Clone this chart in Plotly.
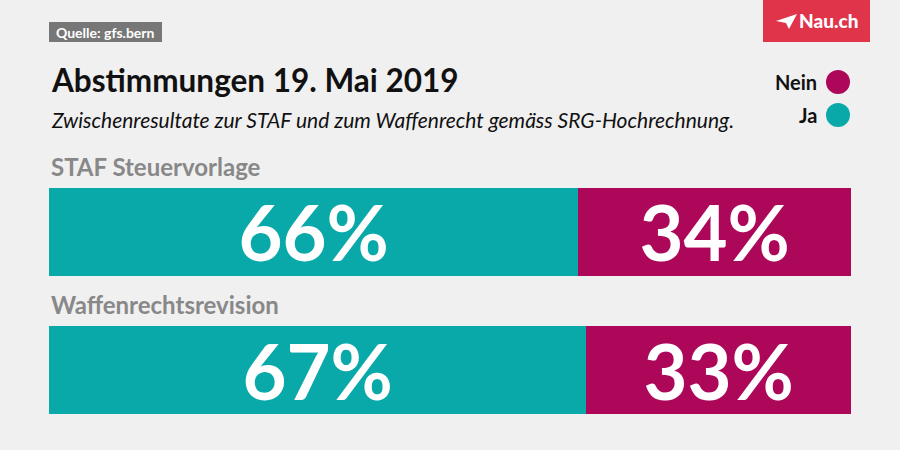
import plotly.graph_objects as go

W, H = 900, 450

vorlagen = ['STAF Steuervorlage', 'Waffenrechtsrevision']
ja = [66, 67]
nein = [34, 33]

farbe_ja = '#0aa9a9'
farbe_nein = '#ac0758'
bg = '#f0f0f0'
font = 'Lato'

fig = go.Figure()

fig.add_trace(go.Bar(
    y=vorlagen, x=ja, name='Ja', orientation='h',
    marker_color=farbe_ja, marker_line_width=0, width=0.635,
    text=[f'{v}%' for v in ja], textposition='inside',
    insidetextanchor='middle', constraintext='none',
    textfont=dict(family=font, size=76, color='white', weight='bold'),
    hoverinfo='skip'
))
fig.add_trace(go.Bar(
    y=vorlagen, x=nein, name='Nein', orientation='h',
    marker_color=farbe_nein, marker_line_width=0, width=0.635,
    text=[f'{v}%' for v in nein], textposition='inside',
    insidetextanchor='middle', constraintext='none',
    textfont=dict(family=font, size=76, color='white', weight='bold'),
    hoverinfo='skip'
))

# Vorlagen-Titel über den Balken
for v in vorlagen:
    fig.add_annotation(
        x=49 / W, xref='paper', y=v, yref='y', yshift=49,
        text=v, showarrow=False, xanchor='left', yanchor='bottom',
        font=dict(family=font, size=24, color='#888888', weight='bold')
    )

shapes = [
    # Quelle-Box
    dict(type='rect', xref='paper', yref='paper',
         x0=49 / W, x1=162 / W, y0=1 - 42 / H, y1=1 - 22 / H,
         fillcolor='#777777', line_width=0, layer='below'),
    # Nau.ch-Box
    dict(type='rect', xref='paper', yref='paper',
         x0=763 / W, x1=870 / W, y0=1 - 42 / H, y1=1,
         fillcolor='#e0344b', line_width=0, layer='below'),
    # Papierflieger
    dict(type='path', xref='paper', yref='paper',
         path=f'M {776/W},{1-21/H} L {797/W},{1-14/H} L {789/W},{1-29/H} '
              f'L {786/W},{1-23/H} Z',
         fillcolor='white', line_width=0),
    # Legende
    dict(type='circle', xref='paper', yref='paper',
         x0=826 / W, x1=850 / W, y0=1 - 94 / H, y1=1 - 70 / H,
         fillcolor=farbe_nein, line_width=0),
    dict(type='circle', xref='paper', yref='paper',
         x0=826 / W, x1=850 / W, y0=1 - 127 / H, y1=1 - 103 / H,
         fillcolor=farbe_ja, line_width=0),
]

annotations = [
    dict(x=105.5 / W, y=1 - 32 / H, text='Quelle: gfs.bern',
         font=dict(family=font, size=14, color='white', weight='bold')),
    dict(x=828 / W, y=1 - 21 / H, text='Nau.ch',
         font=dict(family=font, size=19, color='white', weight=900)),
    dict(x=49 / W, y=1 - 80 / H, text='Abstimmungen 19. Mai 2019', xanchor='left',
         font=dict(family=font, size=31.5, color='#111111', weight='bold')),
    dict(x=49 / W, y=1 - 119 / H, xanchor='left',
         text='Zwischenresultate zur STAF und zum Waffenrecht gemäss SRG-Hochrechnung.',
         font=dict(family=font, size=21, color='#111111', style='italic')),
    dict(x=819 / W, y=1 - 82 / H, text='Nein', xanchor='right',
         font=dict(family=font, size=20, color='#111111', weight='bold')),
    dict(x=819 / W, y=1 - 115 / H, text='Ja', xanchor='right',
         font=dict(family=font, size=20, color='#111111', weight='bold')),
]
for a in annotations:
    a.setdefault('xanchor', 'center')
    fig.add_annotation(xref='paper', yref='paper', showarrow=False,
                       yanchor='middle', **a)

fig.update_layout(
    width=W, height=H,
    barmode='stack',
    paper_bgcolor=bg, plot_bgcolor=bg,
    margin=dict(l=0, r=0, t=0, b=0),
    showlegend=False,
    shapes=shapes,
    xaxis=dict(range=[0, 100], domain=[49 / W, 851 / W], visible=False, fixedrange=True),
    yaxis=dict(range=[1.3145, -0.3175], domain=[1 - 414 / H, 1 - 188 / H],
               visible=False, fixedrange=True),
)

fig.write_html('out.html', config={'displayModeBar': False},
               post_script="document.body.style.margin='0';")
